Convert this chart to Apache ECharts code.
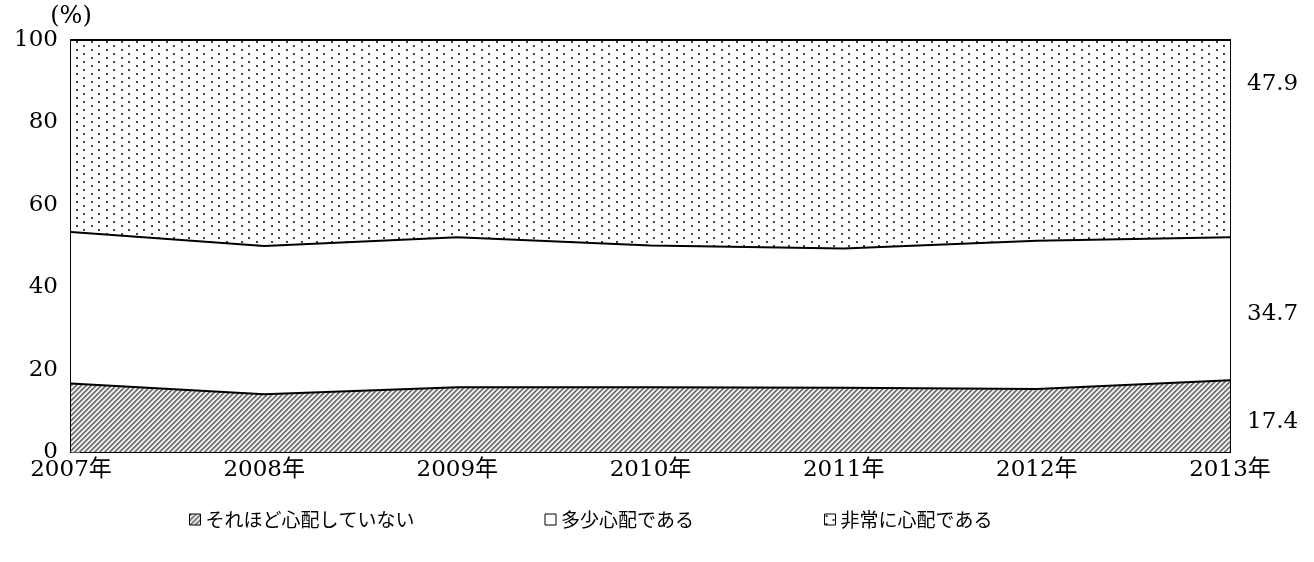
<!DOCTYPE html>
<html>
<head>
<meta charset="utf-8">
<title>心配の程度の推移</title>
<script src="https://cdn.jsdelivr.net/npm/echarts@6/dist/echarts.min.js"></script>
<style>html,body{margin:0;padding:0;background:#fff}</style>
</head>
<body>
<div id="main" style="width:1314px;height:562px"></div>
<script type="text/javascript">
    // データ
    var years = ['2007年', '2008年', '2009年', '2010年', '2011年', '2012年', '2013年'];
    var notWorried = [16.6, 14.0, 15.7, 15.7, 15.6, 15.3, 17.4];
    var someWorried = [36.8, 36.0, 36.4, 34.4, 33.8, 36.0, 34.7];
    var veryWorried = [46.6, 50.0, 47.9, 49.9, 50.6, 48.7, 47.9];
    var names = ['それほど心配していない', '多少心配である', '非常に心配である'];

    var serif = 'DejaVu Serif, Noto Sans CJK JP';

    // 斜線パターン
    function hatch() {
        var c = document.createElement('canvas');
        c.width = 5; c.height = 5;
        var ctx = c.getContext('2d');
        var img = ctx.createImageData(5, 5);
        var shades = [0x74, 0x74, 0xb8, 0xf0, 0xf0];
        for (var y = 0; y < 5; y++) {
            for (var x = 0; x < 5; x++) {
                var k = (y * 5 + x) * 4;
                var v = shades[(x + y) % 5];
                img.data[k] = v; img.data[k + 1] = v; img.data[k + 2] = v; img.data[k + 3] = 255;
            }
        }
        ctx.putImageData(img, 0, 0);
        return c;
    }
    // 点パターン
    function dots() {
        var c = document.createElement('canvas');
        c.width = 15; c.height = 8;
        var ctx = c.getContext('2d');
        ctx.fillStyle = '#fff';
        ctx.fillRect(0, 0, 15, 8);
        ctx.fillStyle = '#444';
        ctx.fillRect(1, 1, 2, 2);
        ctx.fillRect(8, 5, 2, 2);
        return c;
    }
    var fills = [
        { image: hatch(), repeat: 'repeat' },
        '#ffffff',
        { image: dots(), repeat: 'repeat' }
    ];
    var values = [notWorried, someWorried, veryWorried];
    var labelOffsets = [42, 77, 44];

    var series = [];
    for (var s = 0; s < 3; s++) {
        series.push({
            name: names[s],
            type: 'line',
            stack: 'total',
            z: 5 - s,
            symbol: 'none',
            lineStyle: { color: '#000', width: 2 },
            itemStyle: { color: '#000' },
            areaStyle: { color: fills[s], opacity: 1 },
            endLabel: {
                show: true,
                distance: 17,
                offset: [0, labelOffsets[s]],
                formatter: function (p) { return Number(p.value).toFixed(1); },
                color: '#000',
                fontFamily: serif,
                fontSize: 23
            },
            data: values[s]
        });
    }

    var option = {
        backgroundColor: '#fff',
        animation: false,
        grid: {
            left: 71, right: 84, top: 40, bottom: 110,
            show: true, borderColor: '#000', borderWidth: 2, backgroundColor: 'transparent'
        },
        legend: {
            left: 184,
            bottom: 28,
            itemWidth: 11,
            itemHeight: 11,
            itemGap: 130,
            textStyle: { color: '#000', fontFamily: 'Noto Sans CJK JP', fontSize: 19 },
            data: [
                { name: names[0], icon: 'rect', itemStyle: { color: fills[0], borderColor: '#000', borderWidth: 1 } },
                { name: names[1], icon: 'rect', itemStyle: { color: fills[1], borderColor: '#000', borderWidth: 1 } },
                { name: names[2], icon: 'rect', itemStyle: { color: fills[2], borderColor: '#000', borderWidth: 1 } }
            ]
        },
        xAxis: {
            type: 'category',
            boundaryGap: false,
            data: years,
            axisLine: { lineStyle: { color: '#000', width: 2 } },
            axisTick: { inside: true, length: 9, lineStyle: { color: '#000', width: 1 } },
            axisLabel: { color: '#000', fontFamily: serif, fontSize: 23, margin: 7 },
            splitLine: { show: false }
        },
        yAxis: {
            type: 'value',
            min: 0, max: 100, interval: 20,
            name: '(%)',
            nameLocation: 'end',
            nameGap: 10,
            nameTextStyle: { color: '#000', fontFamily: serif, fontSize: 24 },
            axisLine: { show: true, lineStyle: { color: '#000', width: 2 } },
            axisTick: { show: true, inside: true, length: 9, lineStyle: { color: '#555', width: 1 } },
            axisLabel: { color: '#000', fontFamily: serif, fontSize: 23, margin: 13 },
            splitLine: { show: false }
        },
        series: series
    };

    var myChart = echarts.init(document.getElementById('main'));
    myChart.setOption(option);
</script>
</body>
</html>
